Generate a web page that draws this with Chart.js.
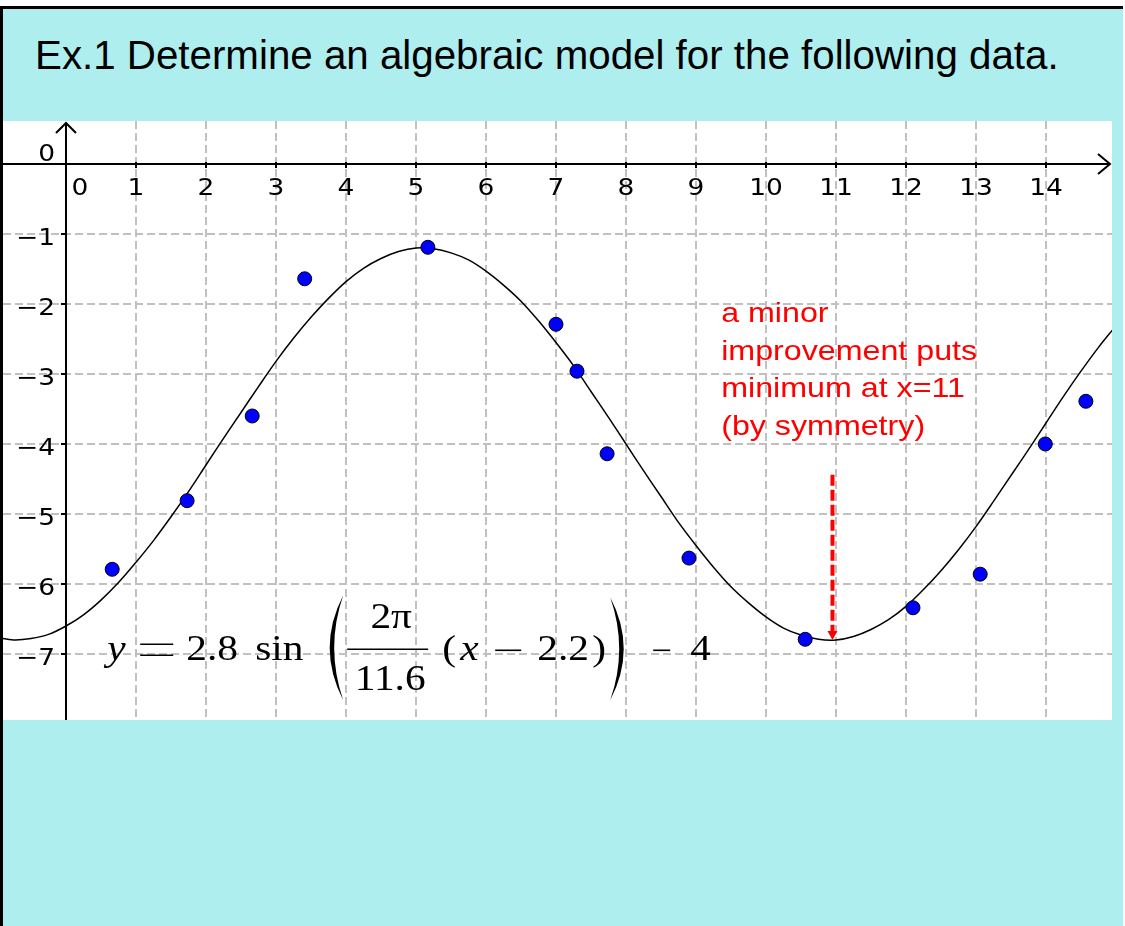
<!DOCTYPE html>
<html>
<head>
<meta charset="utf-8">
<title>Ex.1</title>
<script src="https://cdn.jsdelivr.net/npm/chart.js@4.4.1/dist/chart.umd.min.js"></script>
<style>
  body { margin: 0; background: #fff; }
  #panel {
    position: absolute; left: 0; top: 6px; width: 1123px; height: 920px;
    box-sizing: border-box; background: #afeeee;
    border-top: 3px solid #000; border-left: 3px solid #000;
  }
  #title {
    position: absolute; left: 35px; top: 36px; white-space: nowrap;
    font: 40.3px/40px "Liberation Sans", Arial, sans-serif; color: #000;
  }
  #plot { position: absolute; left: 3px; top: 121px; background: #fff; }
</style>
</head>
<body>
<div id="panel"></div>
<div id="title">Ex.1 Determine an algebraic model for the following data.</div>
<canvas id="plot" width="1109" height="599"></canvas>
<script>
// measured data points
const dataX = [0.66, 1.73, 2.66, 3.41, 5.17, 7.0, 7.3, 7.73, 8.9, 10.56, 12.1, 13.06, 13.99, 14.57];
const dataY = [-5.79, -4.81, -3.6, -1.64, -1.19, -2.29, -2.96, -4.14, -5.63, -6.79, -6.34, -5.86, -4.0, -3.39];

// fitted sinusoid, sampled every quarter unit
const curveX = [-1, -0.75, -0.5, -0.25, 0, 0.25, 0.5, 0.75, 1, 1.25, 1.5, 1.75, 2, 2.25, 2.5, 2.75,
                3, 3.25, 3.5, 3.75, 4, 4.25, 4.5, 4.75, 5, 5.25, 5.5, 5.75, 6, 6.25, 6.5, 6.75,
                7, 7.25, 7.5, 7.75, 8, 8.25, 8.5, 8.75, 9, 9.25, 9.5, 9.75, 10, 10.25, 10.5, 10.75,
                11, 11.25, 11.5, 11.75, 12, 12.25, 12.5, 12.75, 13, 13.25, 13.5, 13.75, 14, 14.25,
                14.5, 14.75, 15];
const curveY = [-6.76, -6.80, -6.78, -6.72, -6.60, -6.44, -6.23, -5.98, -5.69, -5.38, -5.04, -4.68,
                -4.30, -3.92, -3.55, -3.18, -2.82, -2.49, -2.19, -1.92, -1.68, -1.49, -1.35, -1.25,
                -1.20, -1.21, -1.27, -1.37, -1.53, -1.73, -1.96, -2.24, -2.55, -2.88, -3.25, -3.62,
                -4.00, -4.38, -4.75, -5.12, -5.45, -5.76, -6.04, -6.27, -6.47, -6.63, -6.73, -6.79,
                -6.80, -6.75, -6.65, -6.51, -6.32, -6.08, -5.81, -5.51, -5.18, -4.82, -4.45, -4.08,
                -3.70, -3.32, -2.96, -2.62, -2.31];

// axis ticks
const xTicks = [0, 1, 2, 3, 4, 5, 6, 7, 8, 9, 10, 11, 12, 13, 14];
const xTickLabels = ['0', '1', '2', '3', '4', '5', '6', '7', '8', '9', '10', '11', '12', '13', '14'];
const yTicks = [0, -1, -2, -3, -4, -5, -6, -7];
const yTickLabels = ['0', '−1', '−2', '−3', '−4', '−5', '−6', '−7'];

// note + arrow towards the minimum
const noteLines = ['a minor', 'improvement puts', 'minimum at x=11', '(by symmetry)'];
const noteAt = [9.36, -2.257];
const arrowX = 10.95, arrowFromY = -4.44, arrowToY = -6.8;
const eqAt = [0.56, -7.09];

// the graph text is drawn a bit wide
const STRETCH = 1.15;

function wideText(ctx, str, px, py, font, align) {
    ctx.save();
    ctx.font = font;
    ctx.textAlign = align || 'left';
    ctx.translate(px, py);
    ctx.scale(STRETCH, 1);
    ctx.fillText(str, 0, 0);
    ctx.restore();
}

const gridAxes = {
    id: 'gridAxes',
    beforeDatasetsDraw(chart) {
        const { ctx, chartArea: a, scales: { x, y } } = chart;
        const x0 = x.getPixelForValue(0), y0 = y.getPixelForValue(0);
        ctx.save();
        // dashed grid
        ctx.strokeStyle = '#c0c0c0';
        ctx.lineWidth = 2;
        ctx.setLineDash([8, 4]);
        xTicks.forEach(v => {
            if (v === 0) return;
            const px = x.getPixelForValue(v);
            ctx.beginPath(); ctx.moveTo(px, a.top); ctx.lineTo(px, a.bottom); ctx.stroke();
        });
        yTicks.forEach(v => {
            if (v === 0) return;
            const py = y.getPixelForValue(v);
            ctx.beginPath(); ctx.moveTo(a.left, py); ctx.lineTo(a.right, py); ctx.stroke();
        });
        ctx.setLineDash([]);

        // axes with open arrowheads
        ctx.strokeStyle = '#000';
        ctx.lineWidth = 2;
        ctx.beginPath();
        ctx.moveTo(a.left, y0); ctx.lineTo(a.right - 2, y0);
        ctx.moveTo(x0, a.bottom); ctx.lineTo(x0, a.top + 2);
        ctx.moveTo(a.right - 14, y0 - 10); ctx.lineTo(a.right - 2, y0); ctx.lineTo(a.right - 14, y0 + 10);
        ctx.moveTo(x0 - 10, a.top + 12); ctx.lineTo(x0, a.top + 2); ctx.lineTo(x0 + 10, a.top + 12);
        ctx.stroke();

        // tick marks
        ctx.beginPath();
        xTicks.forEach(v => {
            if (v === 0) return;
            const px = x.getPixelForValue(v);
            ctx.moveTo(px, y0 - 2); ctx.lineTo(px, y0 + 4);
        });
        yTicks.forEach(v => {
            if (v === 0) return;
            const py = y.getPixelForValue(v);
            ctx.moveTo(x0 - 5, py); ctx.lineTo(x0, py);
        });
        ctx.stroke();

        // tick labels
        ctx.fillStyle = '#000';
        const tickFont = '23px "DejaVu Sans"';
        xTicks.forEach((v, i) => {
            const px = x.getPixelForValue(v) + (v === 0 ? 14 : 0);
            wideText(ctx, xTickLabels[i], px, y0 + 31, tickFont, 'center');
        });
        yTicks.forEach((v, i) => {
            const py = y.getPixelForValue(v) + (v === 0 ? -2.5 : 11);
            wideText(ctx, yTickLabels[i], x0 - 11, py, tickFont, 'right');
        });
        ctx.restore();
    },
    afterDraw(chart) {
        const { ctx, scales: { x, y } } = chart;
        ctx.save();

        // model equation
        const ox = x.getPixelForValue(eqAt[0]), oy = y.getPixelForValue(eqAt[1]);
        ctx.fillStyle = '#000';
        ctx.strokeStyle = '#000';
        ctx.textBaseline = 'alphabetic';
        const serif = '36px "Liberation Serif", serif';
        const italic = 'italic 36px "Liberation Serif", serif';
        const put = (t, dx, dy, font, align) => wideText(ctx, t, ox + dx, oy + dy, font, align);
        const line = (x1, x2, dy, w) => {
            ctx.lineWidth = w;
            ctx.beginPath(); ctx.moveTo(ox + x1, oy + dy); ctx.lineTo(ox + x2, oy + dy); ctx.stroke();
        };
        const paren = (tipX, top, bottom, outer, inner) => {
            const mid = (top + bottom) / 2;
            ctx.beginPath();
            ctx.moveTo(ox + tipX, oy + top);
            ctx.quadraticCurveTo(ox + outer, oy + mid, ox + tipX, oy + bottom);
            ctx.quadraticCurveTo(ox + inner, oy + mid, ox + tipX, oy + top);
            ctx.fill();
        };
        put('y', 2, 0, italic);
        line(35, 68, -16, 1.6);
        line(35, 68, -5, 1.6);
        put('2.8', 81, 0, serif);
        put('sin', 150, 0, serif);
        paren(238, -65, 40, 211, 220);
        put('2π', 286, -32, serif, 'center');
        line(242, 323, -11, 1.6);
        put('11.6', 285, 30, serif, 'center');
        put('(', 337, 0, serif);
        put('x', 355, 0, italic);
        line(390, 416, -10, 1.6);
        put('2.2', 432, 0, serif);
        put(')', 487, 0, serif);
        paren(505, -63, 40, 532, 523);
        line(548, 565, -10, 1.6);
        put('4', 585, 0, serif);

        // red note
        const nx = x.getPixelForValue(noteAt[0]), ny = y.getPixelForValue(noteAt[1]);
        ctx.fillStyle = '#ff0000';
        const noteFont = '28px "Liberation Sans", Arial, sans-serif';
        noteLines.forEach((t, i) => wideText(ctx, t, nx, ny + i * 37.7, noteFont));

        // dashed arrow down to the minimum
        const ax = x.getPixelForValue(arrowX);
        const ay1 = y.getPixelForValue(arrowFromY), ay2 = y.getPixelForValue(arrowToY);
        ctx.strokeStyle = '#ff0000';
        ctx.lineWidth = 4;
        ctx.setLineDash([11, 4]);
        ctx.beginPath(); ctx.moveTo(ax, ay1); ctx.lineTo(ax, ay2 - 8); ctx.stroke();
        ctx.setLineDash([]);
        ctx.beginPath();
        ctx.moveTo(ax - 5, ay2 - 9); ctx.lineTo(ax + 5, ay2 - 9); ctx.lineTo(ax, ay2);
        ctx.closePath(); ctx.fill();
        ctx.restore();
    }
};

const ctx = document.getElementById('plot').getContext('2d');

new Chart(ctx, {
    type: 'scatter',
    data: {
        datasets: [
            {
                type: 'line',
                data: curveX.map((v, i) => ({ x: v, y: curveY[i] })),
                borderColor: '#000',
                borderWidth: 1.5,
                pointRadius: 0,
                tension: 0.33,
                fill: false,
                order: 2,
            },
            {
                data: dataX.map((v, i) => ({ x: v, y: dataY[i] })),
                backgroundColor: '#0000ff',
                borderColor: '#000',
                borderWidth: 1,
                pointRadius: 7,
                order: 1,
            },
        ],
    },
    options: {
        responsive: false,
        animation: false,
        events: [],
        layout: { padding: 0, autoPadding: false },
        plugins: {
            legend: { display: false },
            tooltip: { enabled: false },
        },
        scales: {
            x: { type: 'linear', min: -0.9, max: 14.943, display: false },
            y: { type: 'linear', min: -7.943, max: 0.614, display: false },
        },
    },
    plugins: [gridAxes],
});
</script>
</body>
</html>
